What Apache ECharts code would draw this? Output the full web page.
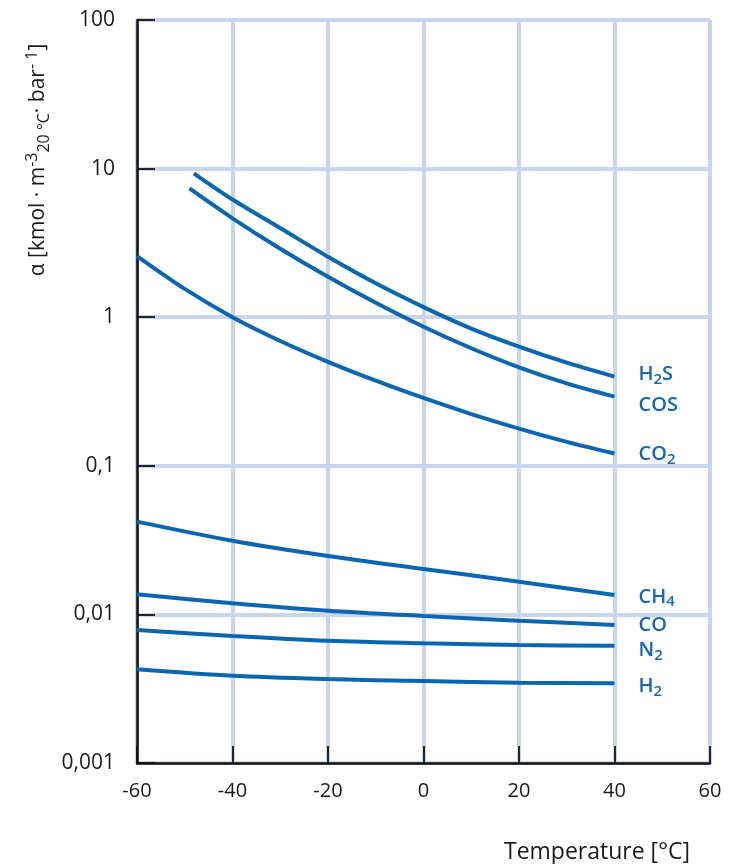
<!DOCTYPE html>
<html>
<head>
<meta charset="utf-8">
<script src="https://cdn.jsdelivr.net/npm/echarts@6/dist/echarts.min.js"></script>
<style>
html,body{margin:0;padding:0;background:#fff;}
#chart{width:730px;height:864px;}
</style>
</head>
<body>
<div id="chart"></div>
<script>
// ---- data ----
const xTicks = [-60, -40, -20, 0, 20, 40, 60];
const yTickLabels = ['0,001', '0,01', '0,1', '1', '10', '100'];

const h2sT = [-48.1, -40, -30, -20, -10, 0, 10, 20, 30, 40];
const h2sV = [9.29, 6.19, 3.98, 2.55, 1.69, 1.17, 0.839, 0.634, 0.494, 0.398];

const cosT = [-49, -40, -30, -20, -10, 0, 10, 20, 30, 40];
const cosV = [7.35, 4.63, 2.89, 1.87, 1.25, 0.863, 0.618, 0.46, 0.359, 0.292];

const co2T = [-60, -50, -40, -30, -20, -10, 0, 10, 20, 30, 40];
const co2V = [2.58, 1.55, 1.0, 0.692, 0.501, 0.374, 0.286, 0.223, 0.178, 0.145, 0.121];

const stdT = [-60, -40, -20, 0, 20, 40];
const ch4V = [0.0421, 0.0313, 0.0247, 0.0202, 0.0166, 0.0135];
const coV  = [0.01365, 0.01188, 0.01059, 0.00976, 0.00907, 0.00849];
const n2V  = [0.00785, 0.00716, 0.00665, 0.00639, 0.00622, 0.00615];
const h2V  = [0.00427, 0.00386, 0.00367, 0.00356, 0.00347, 0.00344];

const seriesNames = ['H2S', 'COS', 'CO2', 'CH4', 'CO', 'N2', 'H2'];
const seriesLabels = ['{n|H}{s|2}{n|S}', '{n|COS}', '{n|CO}{s|2}', '{n|CH}{s|4}', '{n|CO}', '{n|N}{s|2}', '{n|H}{s|2}'];

// ---- styling ----
const LINE = '#0a66b2';
const LABEL = '#1466b4';
const GRID = '#c8d5ee';
const FONT = 'Open Sans';
const TEXT = '#1a1a1a';

const labelOffsets = [[19, -2], [19, 9], [19, 1], [19, 2], [19, 0], [19, 5], [19, 3]];

function pairs(ts, vs) { return ts.map((t, i) => [t, vs[i]]); }
const datasets = [
  pairs(h2sT, h2sV), pairs(cosT, cosV), pairs(co2T, co2V),
  pairs(stdT, ch4V), pairs(stdT, coV), pairs(stdT, n2V), pairs(stdT, h2V)
];

const labelRich = {
  n: { fontSize: 20, fontWeight: 600, color: LABEL, fontFamily: FONT },
  s: { fontSize: 15, fontWeight: 600, color: LABEL, fontFamily: FONT, padding: [10, 0, 0, 0] }
};

const series = datasets.map((d, i) => ({
  name: seriesNames[i],
  type: 'line',
  data: d,
  smooth: 0.3,
  showSymbol: false,
  symbol: 'none',
  lineStyle: { color: LINE, width: 4 },
  itemStyle: { color: LINE },
  z: 3,
  endLabel: {
    show: true,
    distance: 5,
    offset: labelOffsets[i],
    formatter: () => seriesLabels[i],
    rich: labelRich
  }
}));

const chart = echarts.init(document.getElementById('chart'), null, { renderer: 'canvas' });
chart.setOption({
  backgroundColor: '#fff',
  animation: false,
  grid: { left: 137, right: 20, top: 20, bottom: 101, containLabel: false },
  xAxis: {
    type: 'value',
    min: -60, max: 60, interval: 20,
    axisLine: { show: true, lineStyle: { color: '#111', width: 2.5 }, onZero: false },
    axisTick: { show: true, inside: true, length: 17, lineStyle: { color: '#111', width: 1.8 } },
    axisLabel: {
      margin: 18, fontSize: 20, color: TEXT, fontFamily: FONT,
      formatter: v => String(xTicks.find(t => Math.abs(t - v) < 1e-6))
    },
    splitLine: { show: true, lineStyle: { color: GRID, width: 4 } }
  },
  yAxis: {
    type: 'log',
    logBase: 10,
    min: 0.001, max: 100,
    axisLine: { show: true, onZero: false, lineStyle: { color: '#111', width: 2.5 } },
    axisTick: { show: true, inside: true, length: 18, lineStyle: { color: '#111', width: 1.8 } },
    axisLabel: {
      margin: 22, fontSize: 21, color: TEXT, fontFamily: FONT,
      formatter: v => yTickLabels[Math.round(Math.log10(v)) + 3]
    },
    splitLine: { show: true, lineStyle: { color: GRID, width: 4 } },
    minorTick: { show: false },
    minorSplitLine: { show: false }
  },
  series: series,
  graphic: [
    {
      type: 'text',
      x: 38, y: 160,
      rotation: Math.PI / 2,
      style: {
        text: '{n|α [kmol · m}{sup|-3}{sub|20 °C}{n|· bar}{sup|- 1}{n|]}',
        align: 'center',
        verticalAlign: 'middle',
        rich: {
          n: { fontSize: 21, fontFamily: FONT, fill: TEXT, color: TEXT },
          sup: { fontSize: 16, fontFamily: FONT, fill: TEXT, color: TEXT, padding: [0, 0, 12, 0] },
          sub: { fontSize: 16, fontFamily: FONT, fill: TEXT, color: TEXT, padding: [12, 0, 0, 0] }
        }
      }
    },
    {
      type: 'text',
      x: 690, y: 852,
      style: {
        text: 'Temperature [°C]',
        align: 'right',
        verticalAlign: 'middle',
        fontSize: 23,
        fontFamily: FONT,
        fill: TEXT
      }
    }
  ]
});
</script>
</body>
</html>
